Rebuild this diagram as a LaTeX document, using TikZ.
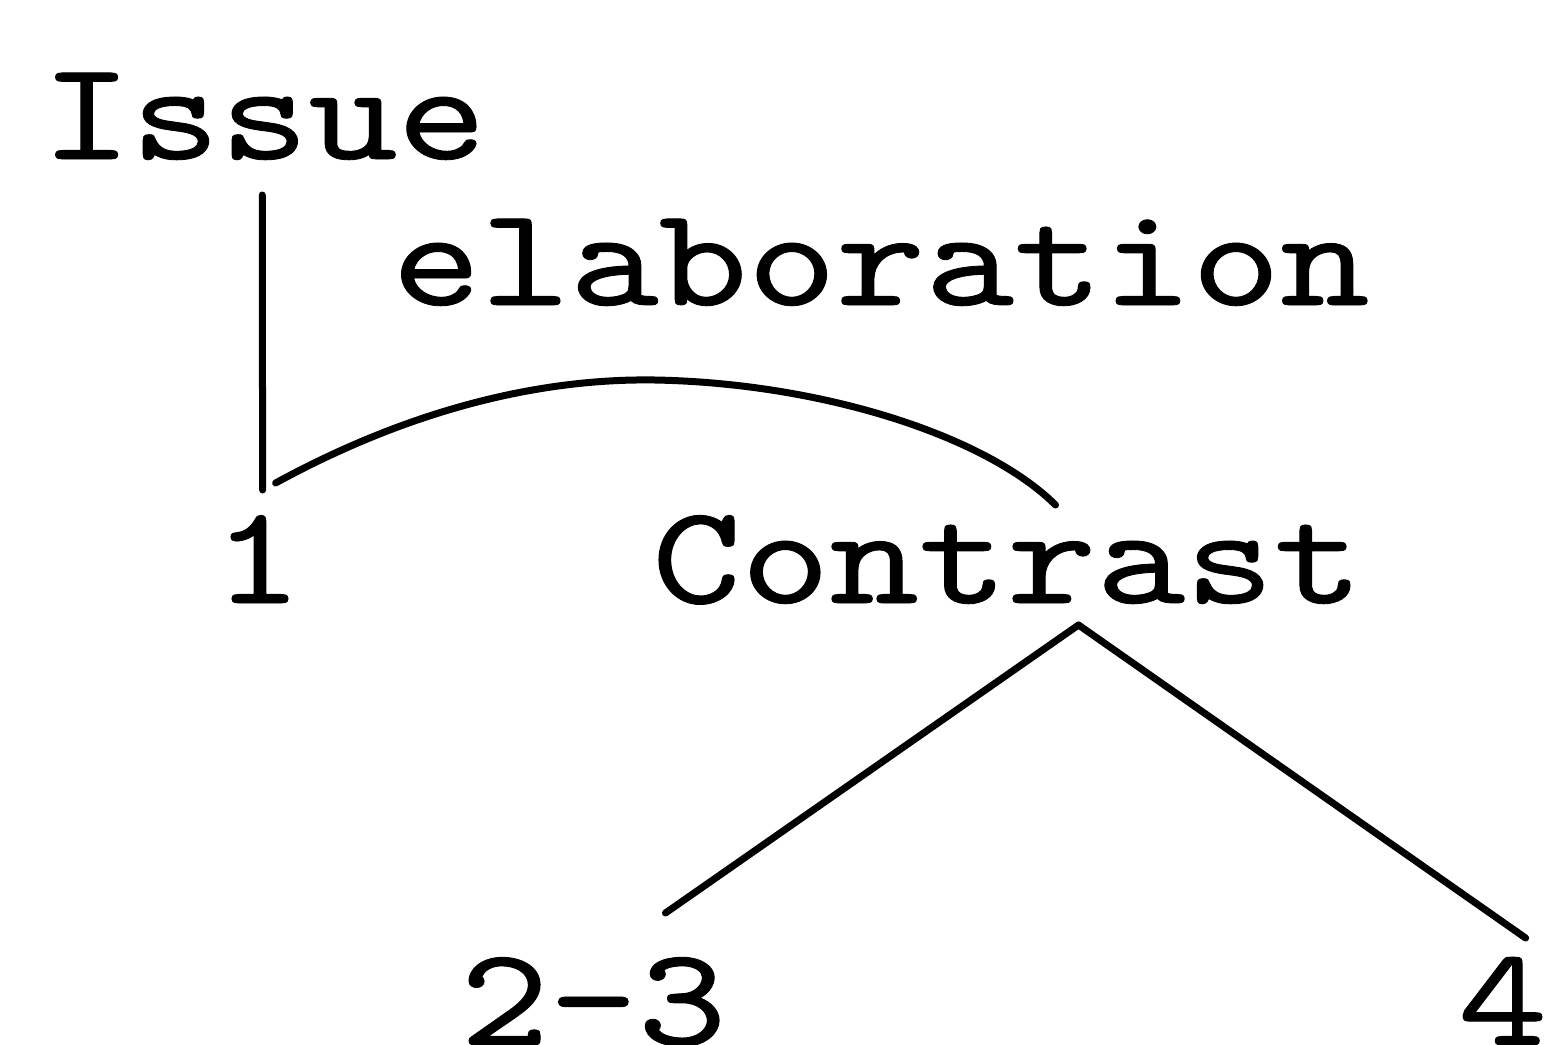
\documentclass[tikz,border=0pt]{standalone}
\usepackage{fontspec}
\newfontfamily\cour{lmmono10-regular.otf}[FakeBold=0.6]
\usetikzlibrary{calc}
\newcommand{\ctext}[1]{\scalebox{1.2}[1]{#1}}
\tikzset{
  lbl/.style={inner sep=0pt, anchor=base west, font=\cour\fontsize{141}{150}\selectfont},
  edge/.style={line width=7pt, line cap=round, line join=round}
}
\begin{document}
\begin{tikzpicture}[x=1pt,y=-1pt]
\useasboundingbox (0,0) rectangle (1544,1044);
\node[lbl] (issue) at (42,159) {\ctext{Issue}};
\node[lbl] (elab) at (392,305) {\ctext{elaboration}};
\node[lbl] (one) at (213,603) {\ctext{1}};
\node[lbl] (contrast) at (652,603) {\ctext{Contrast}};
\node[lbl] (two) at (460,1045) {\ctext{2-3}};
\node[lbl] (four) at (1458,1045) {\ctext{4}};
\coordinate (vtop) at ($(issue.base)+(-2,36)$);
\coordinate (vbot) at ($(one.base)+(5,-113)$);
\coordinate (cstart) at ($(one.base)+(18,-120)$);
\coordinate (cend) at ($(contrast.base)+(48,-98)$);
\coordinate (apex) at ($(contrast.base)+(71,22)$);
\coordinate (lend) at ($(two.base)+(72,-132)$);
\coordinate (rend) at ($(four.base)+(23,-107)$);
\draw[edge] (vtop) -- (vbot);
\draw[edge] (cstart) .. controls (400,415) and (530,378) .. (655,380)
  .. controls (820,383) and (985,435) .. (cend);
\draw[edge] (apex) -- (lend);
\draw[edge] (apex) -- (rend);
\end{tikzpicture}
\end{document}
